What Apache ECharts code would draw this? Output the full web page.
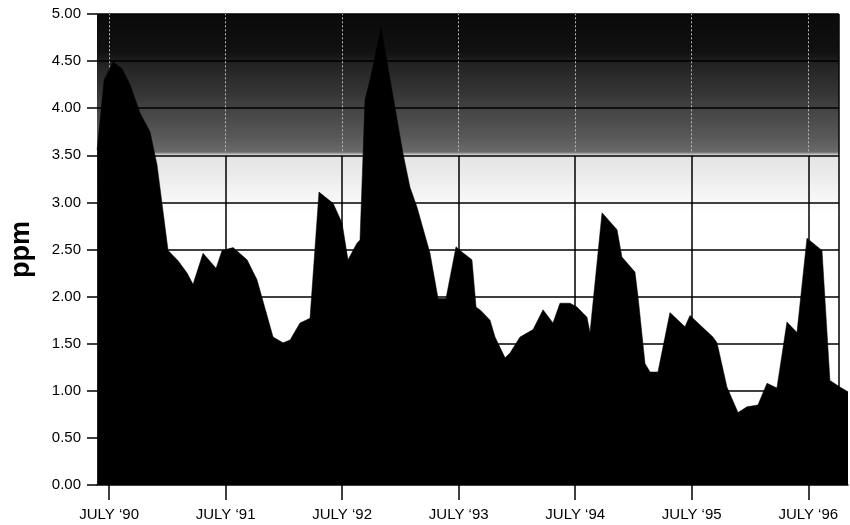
<!DOCTYPE html>
<html>
<head>
<meta charset="utf-8">
<script src="https://cdn.jsdelivr.net/npm/echarts@6/dist/echarts.min.js"></script>
<style>
  html, body { margin: 0; padding: 0; background: #fff; }
  #chart { width: 850px; height: 525px; }
</style>
</head>
<body>
<div id="chart"></div>
<script>
// Sample dates (decimal years) and concentrations (ppm)
const years = [
  1990.397, 1990.457, 1990.534, 1990.611, 1990.680, 1990.765, 1990.851, 1990.911,
  1991.006, 1991.092, 1991.169, 1991.220, 1991.306, 1991.418, 1991.469, 1991.564,
  1991.684, 1991.769, 1991.907, 1991.993, 1992.053, 1992.138, 1992.224, 1992.301,
  1992.422, 1992.499, 1992.550, 1992.628, 1992.653, 1992.696, 1992.739, 1992.834,
  1993.022, 1993.082, 1993.142, 1993.254, 1993.323, 1993.391, 1993.477, 1993.511,
  1993.614, 1993.649, 1993.692, 1993.769, 1993.812, 1993.898, 1993.940, 1994.026,
  1994.138, 1994.224, 1994.309, 1994.369, 1994.455, 1994.515, 1994.601, 1994.627,
  1994.730, 1994.859, 1994.901, 1995.013, 1995.039, 1995.099, 1995.142, 1995.210,
  1995.313, 1995.442, 1995.485, 1995.682, 1995.717, 1995.802, 1995.897, 1995.974,
  1996.068, 1996.146, 1996.231, 1996.317, 1996.403, 1996.489, 1996.618, 1996.686,
  1996.772, 1996.841
];
const ppm = [
  3.56, 4.30, 4.49, 4.42, 4.25, 3.95, 3.75, 3.40,
  2.49, 2.38, 2.25, 2.13, 2.46, 2.30, 2.49, 2.52,
  2.39, 2.18, 1.57, 1.51, 1.54, 1.72, 1.77, 3.11,
  2.99, 2.78, 2.39, 2.57, 2.60, 4.09, 4.30, 4.85,
  3.52, 3.16, 2.95, 2.46, 1.98, 1.98, 2.53, 2.49,
  2.39, 1.89, 1.85, 1.75, 1.57, 1.35, 1.40, 1.57,
  1.65, 1.86, 1.72, 1.93, 1.93, 1.89, 1.78, 1.62,
  2.89, 2.71, 2.42, 2.26, 2.00, 1.29, 1.20, 1.20,
  1.83, 1.68, 1.80, 1.57, 1.51, 1.04, 0.77, 0.83,
  0.85, 1.08, 1.03, 1.73, 1.62, 2.62, 2.49, 1.11,
  1.04, 0.99
];
const julyTicks = [1990.5, 1991.5, 1992.5, 1993.5, 1994.5, 1995.5, 1996.5];
const tickLabels = ["JULY \u201890", "JULY \u201891", "JULY \u201892", "JULY \u201893", "JULY \u201894", "JULY \u201895", "JULY \u201896"];
const xRange = [1990.396, 1996.841];   // axis extent (data runs to the right end)
const frameRight = 1996.763;           // right edge of the gridded frame
const yTicks = { min: 0, max: 5, step: 0.5 };
const darkFrom = 3.5;                  // shaded band starts here
const yName = "ppm";

const chart = echarts.init(document.getElementById('chart'), null, { renderer: 'canvas' });
const font = "'Liberation Sans', Arial, Helvetica, sans-serif";

const bg = new echarts.graphic.LinearGradient(0, 0, 0, 1, [
  { offset: 0.00, color: '#0a0a0a' },
  { offset: 0.08, color: '#111111' },
  { offset: 0.11, color: '#242424' },
  { offset: 0.17, color: '#363636' },
  { offset: 0.21, color: '#474747' },
  { offset: 0.26, color: '#585858' },
  { offset: 0.293, color: '#6a6a6a' },
  { offset: 0.300, color: '#e3e3e3' },
  { offset: 0.36, color: '#efefef' },
  { offset: 0.40, color: '#f9f9f9' },
  { offset: 0.42, color: '#ffffff' },
  { offset: 1.00, color: '#ffffff' }
]);

const black = { color: '#000', width: 1.5, type: 'solid' };
const pale = { color: '#b8b8b8', width: 1, type: [2, 2] };

const gridLines = [];
for (let v = yTicks.min + yTicks.step; v <= yTicks.max + 1e-9; v += yTicks.step) {
  gridLines.push([{ coord: [xRange[0], v], lineStyle: black }, { coord: [frameRight, v] }]);
}
julyTicks.forEach(t => {
  gridLines.push([{ coord: [t, yTicks.min], lineStyle: black }, { coord: [t, darkFrom] }]);
  gridLines.push([{ coord: [t, darkFrom], lineStyle: pale }, { coord: [t, yTicks.max] }]);
});
gridLines.push([{ coord: [frameRight, yTicks.min], lineStyle: black }, { coord: [frameRight, yTicks.max] }]);

chart.setOption({
  animation: false,
  backgroundColor: '#ffffff',
  grid: { left: 97, right: 2, top: 14, bottom: 40, show: false },
  xAxis: {
    type: 'value',
    min: xRange[0],
    max: xRange[1],
    axisLine: { show: true, lineStyle: { color: '#000', width: 1.5 } },
    axisTick: { show: true, length: 15, customValues: julyTicks, lineStyle: { color: '#000', width: 1.5 } },
    axisLabel: {
      customValues: julyTicks,
      margin: 22,
      fontSize: 15,
      color: '#000',
      fontFamily: font,
      formatter: function (v) {
        const i = julyTicks.findIndex(t => Math.abs(t - v) < 1e-6);
        return i >= 0 ? tickLabels[i] : '';
      }
    },
    splitLine: { show: false }
  },
  yAxis: {
    type: 'value',
    min: yTicks.min,
    max: yTicks.max,
    interval: yTicks.step,
    name: yName,
    nameLocation: 'middle',
    nameRotate: 90,
    nameGap: 62,
    nameTextStyle: { fontSize: 27, fontWeight: 'bold', color: '#000', fontFamily: font },
    axisLine: { show: false },
    axisTick: { show: true, length: 10, lineStyle: { color: '#000', width: 1.5 } },
    axisLabel: {
      margin: 16,
      fontSize: 15,
      color: '#000',
      fontFamily: font,
      formatter: v => v.toFixed(2)
    },
    splitLine: { show: false }
  },
  series: [
    {
      // frame: shaded background and grid lines, drawn beneath the data
      type: 'line',
      z: 0,
      data: [],
      silent: true,
      markArea: {
        silent: true,
        z: 0,
        itemStyle: { color: bg, borderWidth: 0 },
        data: [[{ coord: [xRange[0], yTicks.max] }, { coord: [frameRight, yTicks.min] }]]
      },
      markLine: {
        silent: true,
        z: 1,
        symbol: ['none', 'none'],
        label: { show: false },
        lineStyle: black,
        data: gridLines
      }
    },
    {
      type: 'line',
      z: 5,
      data: years.map((y, i) => [y, ppm[i]]),
      symbol: 'none',
      silent: true,
      lineStyle: { color: '#000', width: 0.5 },
      areaStyle: { color: '#000', opacity: 1 }
    }
  ]
});
</script>
</body>
</html>
